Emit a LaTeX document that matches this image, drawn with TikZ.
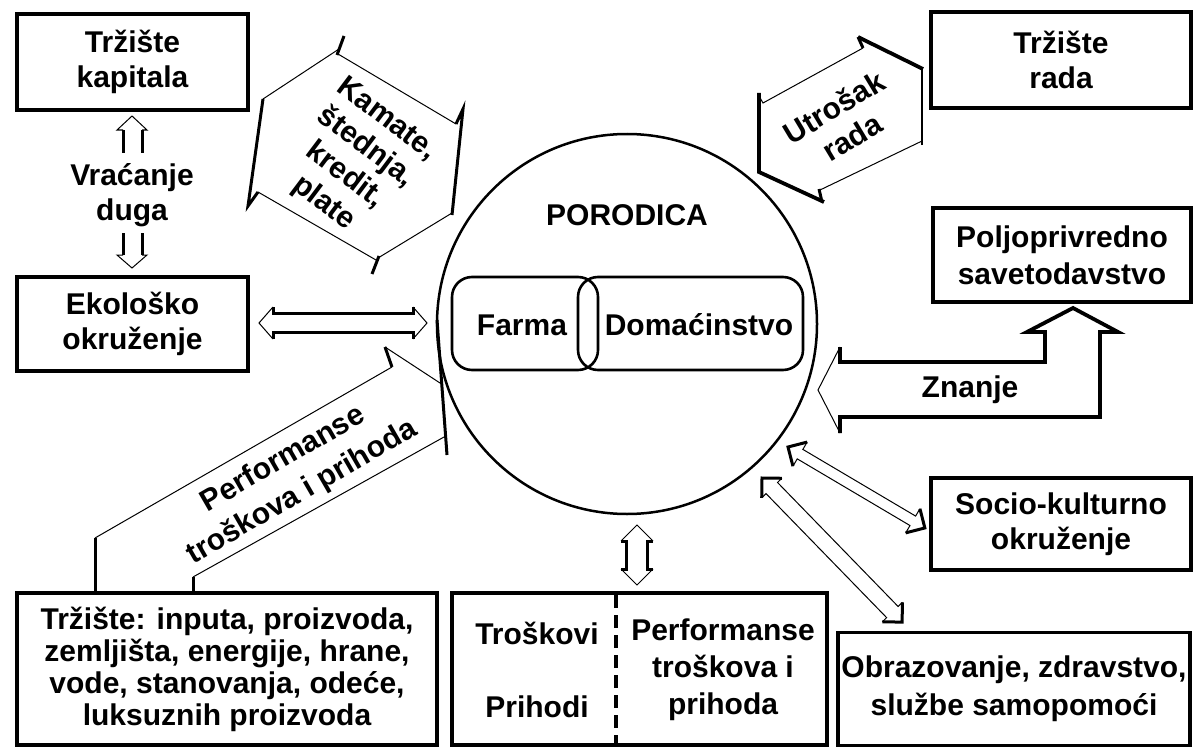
\documentclass[tikz,border=0pt]{standalone}
\usepackage{fontspec}
\setmainfont{Liberation Sans}
\newcommand{\blkdarrow}[8]{%
  \begin{scope}[shift={#1},rotate=#2]
    \fill[white] (0,0) -- (#4,#5) -- (#4,#6) -- ({#3-#4},#6) -- ({#3-#4},#5) -- (#3,0) -- ({#3-#4},-#5) -- ({#3-#4},-#6) -- (#4,-#6) -- (#4,-#5) -- cycle;
    \draw[#7] (#4,#5) -- (0,0) -- (#4,-#5);
    \draw[#7] ({#3-#4},#5) -- (#3,0) -- ({#3-#4},-#5);
    \draw[#8] (#4,#5) -- (#4,#6) -- ({#3-#4},#6) -- ({#3-#4},#5);
    \draw[#8] (#4,-#5) -- (#4,-#6) -- ({#3-#4},-#6) -- ({#3-#4},-#5);
  \end{scope}}
\begin{document}
\begin{tikzpicture}[x=1pt,y=-1pt,
  every node/.style={font=\bfseries\fontsize{30}{35}\selectfont, align=center, inner sep=0pt},
  box/.style={draw, line width=3.5pt},
  thinl/.style={line width=1pt, line join=miter},
  thickl/.style={line width=3pt, line join=miter},
  heavy/.style={line width=3.8pt, line join=miter},
  rrect/.style={draw, rounded corners=20pt, line width=2.6pt, minimum height=93pt}
]
\useasboundingbox (0,0) rectangle (1201,749);
\fill[white] (0,0) rectangle (1201,749);

% ---------- boxes ----------
\node[box, minimum width=231pt, minimum height=96pt] (kap) at (132.5,62) {Tržište\\kapitala};
\node[box, minimum width=231pt, minimum height=94pt] (ekol) at (132.5,324) {Ekološko\\okruženje};
\node[box, minimum width=260pt, minimum height=96pt] (rada) at (1061,60) {Tržište\\rada};
\node[box, minimum width=258pt, minimum height=94pt, font=\bfseries\fontsize{30}{37}\selectfont] (savet) at (1062,255) {Poljoprivredno\\savetodavstvo};
\node[box, minimum width=260pt, minimum height=92pt] (socio) at (1061,524) {Socio-kulturno\\okruženje};
\node[box, minimum width=420pt, minimum height=152pt, font=\bfseries\fontsize{30}{32}\selectfont] (trz) at (227,669)
  {Tržište: inputa, proizvoda,\\zemljišta, energije, hrane,\\vode, stanovanja, odeće,\\luksuznih proizvoda};
\node[box, minimum width=375pt, minimum height=152pt] (tros) at (639.5,669) {};
\draw[line width=4pt, dash pattern=on 13pt off 7pt] (616,595) -- (616,743);
\node (trosl) at (537,633) {Troškovi};
\node (prihl) at (537,707) {Prihodi};
\node[font=\bfseries\fontsize{30}{37}\selectfont] (perfr) at (723,670) {Performanse\\troškova i\\prihoda};
\node[box, minimum width=352pt, minimum height=113pt, font=\bfseries\fontsize{30}{38}\selectfont] (obraz) at (1014,689) {Obrazovanje, zdravstvo,\\službe samopomoći};

% ---------- central circle ----------
\node[draw, circle, line width=2.5pt, minimum size=380pt] (por) at (627,324) {};
\node (portxt) at (627,215) {PORODICA};
\node[rrect, minimum width=146pt] (farma) at (525,323.5) {};
\node[rrect, minimum width=225pt] (domac) at (690.5,323.5) {};
\node (farmatxt) at (522,325) {Farma};
\node (domactxt) at (699,325) {Domaćinstvo};

% ---------- Vracanje duga ----------
\node (vrac) at (132,195) {Vraćanje\\duga};
\draw[thickl] (123,130) -- (123,153) (142,130) -- (142,153);
\draw[thinl] (123,130) -- (117,130) -- (132,116) -- (147,130) -- (142,130);
\draw[thickl] (123,233) -- (123,255) (142,233) -- (142,255);
\draw[thinl] (123,255) -- (117,255) -- (132,268) -- (147,255) -- (142,255);

% ---------- double arrows ----------
\blkdarrow{(259,323)}{0}{168}{14}{16}{9.5}{thinl}{thickl}
\blkdarrow{(637,525)}{-90}{60}{16}{16}{10.5}{thinl}{thickl}
\blkdarrow{(788,447)}{-30.6}{159}{14}{14}{5.5}{thickl}{thinl}
\blkdarrow{(762,478)}{-45.8}{201}{14}{14}{8}{thickl}{thinl}

% ---------- Kamate hexagon ----------
\draw[thinl] (263,99) -- (339,49);
\draw[thickl] (344,36) -- (337,55);
\draw[thinl] (338,54) -- (456,124);
\draw[thickl] (456,124) -- (463,109) -- (452,215);
\draw[thinl] (452,213) -- (378,258);
\draw[thickl] (379,256) -- (372,274);
\draw[thinl] (376,260) -- (258,192);
\draw[thickl] (258,192) -- (248,206) -- (263,99);
\node[rotate=-37, font=\bfseries\fontsize{30}{35}\selectfont] (kamtxt) at (355,162) {Kamate,\\štednja,\\kredit,\\plate};

% ---------- Utrosak hexagon ----------
\draw[heavy] (759,93) -- (759,172) -- (824,202);
\draw[thickl] (822,202) -- (819,189);
\draw[thinl] (820,190) -- (922,141);
\draw[line width=2pt] (922,145) -- (922,68);
\draw[heavy] (923,69) -- (858,37);
\draw[thickl] (858,37) -- (863,48);
\draw[thinl] (863,48) -- (763,103) -- (759,96);
\node[rotate=31] (utrtxt) at (843,122) {Utrošak\\rada};

% ---------- Performanse arrow ----------
\draw[thickl] (95,592) -- (95,538);
\draw[thinl] (95,538) -- (392,367);
\draw[thickl] (392,367) -- (385,347);
\draw[thinl] (385,347) -- (440,383);
\draw[thickl] (437,320) -- (447,455);
\draw[thinl] (444,437) -- (193,577);
\draw[thickl] (193,577) -- (193,592);
\node[rotate=30, font=\bfseries\fontsize{30}{38}\selectfont] (perftxt) at (293,476) {Performanse\\troškova i prihoda};

% ---------- Znanje arrow ----------
\draw[thinl] (840,347) -- (818,390) -- (840,433);
\draw[heavy] (840,347) -- (840,362) -- (1045,362) -- (1045,332) -- (1027,332) -- (1073,308) -- (1118,332) -- (1100,332) -- (1100,417) -- (840,417) -- (840,433);
\node (znanje) at (970,390) {Znanje};
\end{tikzpicture}
\end{document}
